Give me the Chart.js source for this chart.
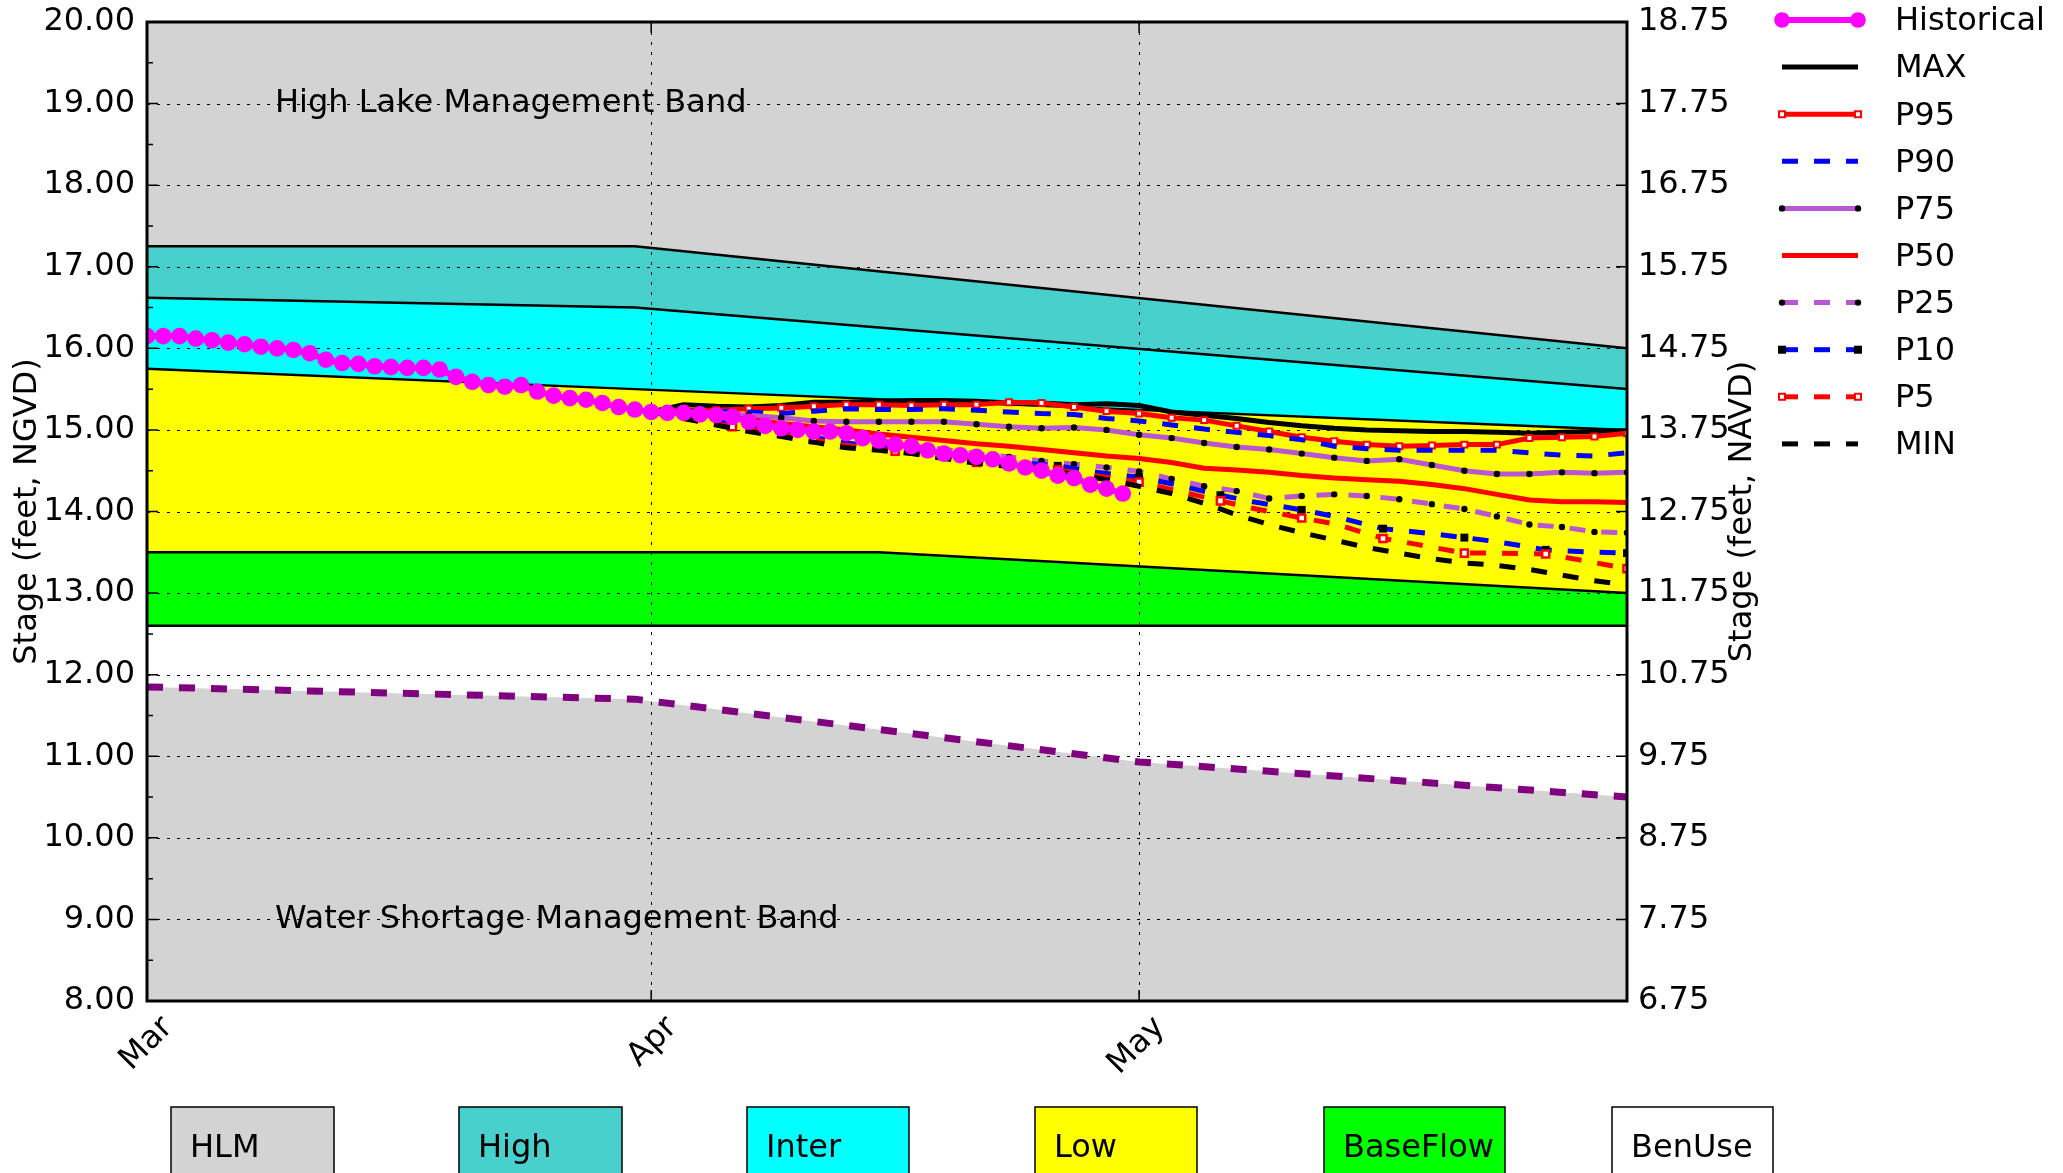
<!DOCTYPE html>
<html>
<head>
<meta charset="utf-8">
<title>Lake stage position analysis</title>
<script src="https://cdn.jsdelivr.net/npm/chart.js@4.4.1/dist/chart.umd.min.js"></script>
<style>
  html, body { margin: 0; padding: 0; background: #fff; }
  #wrap { width: 2063px; height: 1173px; position: relative; }
</style>
</head>
<body>
<div id="wrap"><canvas id="c" width="2063" height="1173"></canvas></div>
<script>
// ---- x axis: day number counted from March 1 ----
const monthDays = [0, 31, 61];
const monthLabels = ['Mar', 'Apr', 'May'];

// ---- y axis ticks (left: NGVD, right: NAVD) ----
const leftTicks = [8, 9, 10, 11, 12, 13, 14, 15, 16, 17, 18, 19, 20];
const rightTicks = [6.75, 7.75, 8.75, 9.75, 10.75, 11.75, 12.75, 13.75, 14.75, 15.75, 16.75, 17.75, 18.75];

// ---- management band boundaries (feet NGVD) ----
const hlmDays = [0, 30, 91];
const hlmFloor = [17.25, 17.25, 16.0];        // HLM / High
const highDays = [0, 30, 91];
const highFloor = [16.62, 16.5, 15.5];        // High / Intermediate
const interDays = [0, 30, 91];
const interFloor = [15.75, 15.5, 15.0];       // Intermediate / Low
const lowDays = [0, 45, 91];
const lowFloor = [13.5, 13.5, 13.0];          // Low / Base Flow
const baseDays = [0, 91];
const baseFloor = [12.6, 12.6];               // Base Flow / Beneficial Use
const wsmDays = [0, 30, 61, 91];
const wsmLine = [11.85, 11.7, 10.93, 10.5];   // Water Shortage Management line

// ---- observed stage, one value per day from Mar 1 ----
const histStage = [16.15,16.15,16.15,16.12,16.10,16.07,16.05,16.02,16.00,15.98,
  15.94,15.86,15.82,15.81,15.78,15.77,15.76,15.76,15.74,15.65,
  15.59,15.55,15.53,15.55,15.47,15.42,15.39,15.37,15.33,15.28,
  15.25,15.22,15.21,15.21,15.19,15.18,15.16,15.10,15.05,15.02,
  15.00,14.98,14.98,14.96,14.90,14.87,14.82,14.80,14.75,14.71,
  14.69,14.67,14.64,14.59,14.54,14.50,14.44,14.41,14.33,14.28,14.22];

// ---- position analysis traces (every second day from Apr 1) ----
const fcDays = [31,33,35,37,39,41,43,45,47,49,51,53,55,57,59,61,63,65,67,69,71,73,75,77,79,81,83,85,87,89,91];
const stageMax = [15.22,15.31,15.29,15.28,15.30,15.34,15.34,15.35,15.36,15.36,15.35,15.33,15.33,15.31,15.32,15.30,
  15.22,15.18,15.14,15.09,15.05,15.02,15.00,14.99,14.98,14.98,14.97,14.96,14.97,14.98,14.99];
const stageP95 = [15.22,15.24,15.24,15.26,15.27,15.29,15.31,15.31,15.30,15.31,15.31,15.34,15.33,15.28,15.23,15.20,
  15.15,15.12,15.05,14.98,14.91,14.86,14.82,14.80,14.81,14.82,14.82,14.90,14.91,14.92,14.96];
const stageP90 = [15.22,15.23,15.23,15.22,15.20,15.23,15.26,15.25,15.25,15.26,15.24,15.22,15.20,15.19,15.14,15.11,
  15.06,15.01,14.97,14.93,14.88,14.80,14.77,14.75,14.75,14.75,14.75,14.72,14.69,14.68,14.72];
const stageP75 = [15.22,15.22,15.20,15.18,15.15,15.11,15.10,15.10,15.10,15.10,15.07,15.04,15.02,15.03,15.00,14.94,
  14.90,14.84,14.79,14.76,14.71,14.66,14.62,14.64,14.57,14.50,14.46,14.46,14.48,14.47,14.48];
const stageP50 = [15.22,15.20,15.17,15.13,15.08,15.04,15.00,14.95,14.91,14.87,14.83,14.80,14.76,14.72,14.68,14.65,
  14.60,14.53,14.51,14.48,14.44,14.41,14.39,14.37,14.33,14.28,14.21,14.14,14.12,14.12,14.11];
const stageP25 = [15.22,15.19,15.15,15.10,15.04,14.98,14.93,14.87,14.81,14.76,14.71,14.67,14.62,14.58,14.54,14.49,
  14.40,14.31,14.25,14.16,14.19,14.21,14.19,14.15,14.09,14.03,13.94,13.84,13.81,13.75,13.74];
const stageMin = [15.22,15.14,15.06,14.98,14.92,14.85,14.78,14.75,14.71,14.65,14.59,14.55,14.50,14.46,14.39,14.31,
  14.22,14.10,13.96,13.84,13.74,13.65,13.56,13.49,13.42,13.37,13.34,13.29,13.22,13.15,13.10];

// lower percentiles are read on their own day set (markers every fifth day)
const lowPctDays = [31,33,36,38,41,43,46,48,51,53,56,58,61,63,66,68,71,73,76,78,81,83,86,88,91];
const stageP10 = [15.22,15.17,15.07,15.01,14.91,14.84,14.77,14.71,14.64,14.61,14.56,14.49,14.42,
  14.34,14.20,14.12,14.02,13.94,13.79,13.75,13.68,13.63,13.53,13.51,13.49];
const stageP5 = [15.22,15.14,15.04,14.98,14.88,14.81,14.74,14.69,14.60,14.57,14.51,14.45,14.36,
  14.27,14.13,14.04,13.92,13.85,13.67,13.60,13.49,13.49,13.48,13.41,13.30];

// ---- band colour key ----
const bandNames = ['HLM', 'High', 'Inter', 'Low', 'BaseFlow', 'BenUse'];
const bandColors = ['#d3d3d3', '#48d1cc', '#00ffff', '#ffff00', '#00ff00', '#ffffff'];

const FONT = "'DejaVu Sans', 'Liberation Sans', sans-serif";
const FS = 32;
Chart.defaults.font.family = FONT;
Chart.defaults.font.size = FS;
Chart.defaults.color = '#000';

const pts = (xs, ys) => xs.map((x, i) => ({ x: x, y: ys[i] }));
const everyFifth = (r) => (ctx) => (ctx.raw && (ctx.raw.x - 31) % 5 === 0 ? r : 0);

const DASH = [16, 16];
const ORCHID = '#ba55d3';

const datasets = [
  { label: 'Historical', data: pts(histStage.map((_, i) => i), histStage), borderColor: '#ff00ff', borderWidth: 6,
    pointRadius: 8.3, pointBackgroundColor: '#ff00ff', pointBorderWidth: 0, order: 0,
    mark: { shape: 'circle', size: 7.8, fill: '#ff00ff' } },
  { label: 'MAX', data: pts(fcDays, stageMax), borderColor: '#000', borderWidth: 5, order: 9 },
  { label: 'P95', data: pts(fcDays, stageP95), borderColor: '#ff0000', borderWidth: 5, order: 8,
    pointStyle: 'rect', pointRadius: 4.2, pointBackgroundColor: '#fff', pointBorderColor: '#ff0000', pointBorderWidth: 2,
    mark: { shape: 'rect', size: 6, fill: '#fff', stroke: '#ff0000' } },
  { label: 'P90', data: pts(fcDays, stageP90), borderColor: '#0000ff', borderWidth: 5, borderDash: DASH, order: 7 },
  { label: 'P75', data: pts(fcDays, stageP75), borderColor: ORCHID, borderWidth: 5, order: 6,
    pointRadius: 3.2, pointBackgroundColor: '#000', pointBorderWidth: 0,
    mark: { shape: 'circle', size: 3.2, fill: '#000' } },
  { label: 'P50', data: pts(fcDays, stageP50), borderColor: '#ff0000', borderWidth: 5, order: 5 },
  { label: 'P25', data: pts(fcDays, stageP25), borderColor: ORCHID, borderWidth: 5, borderDash: DASH, order: 4,
    pointRadius: 3.2, pointBackgroundColor: '#000', pointBorderWidth: 0,
    mark: { shape: 'circle', size: 3.2, fill: '#000' } },
  { label: 'P10', data: pts(lowPctDays, stageP10), borderColor: '#0000ff', borderWidth: 5, borderDash: DASH, order: 3,
    pointStyle: 'rect', pointRadius: everyFifth(5.6), pointBackgroundColor: '#000', pointBorderWidth: 0,
    mark: { shape: 'rect', size: 8, fill: '#000' } },
  { label: 'P5', data: pts(lowPctDays, stageP5), borderColor: '#ff0000', borderWidth: 5, borderDash: DASH, order: 2,
    pointStyle: 'rect', pointRadius: everyFifth(5.0), pointBackgroundColor: '#fff', pointBorderColor: '#ff0000', pointBorderWidth: 2.5,
    mark: { shape: 'rect', size: 6, fill: '#fff', stroke: '#ff0000' } },
  { label: 'MIN', data: pts(fcDays, stageMin), borderColor: '#000', borderWidth: 5, borderDash: DASH, order: 1 },
];
const seriesCount = datasets.length;

// band boundaries: each one fills up to the boundary above it
const iHlm = datasets.length;
datasets.push({ label: '_hlm', data: pts(hlmDays, hlmFloor), borderColor: '#000', borderWidth: 2.5,
  fill: 'end', backgroundColor: bandColors[0], order: 30 });
const iHigh = datasets.length;
datasets.push({ label: '_high', data: pts(highDays, highFloor), borderColor: '#000', borderWidth: 2.5,
  fill: iHlm, backgroundColor: bandColors[1], order: 31 });
const iInter = datasets.length;
datasets.push({ label: '_inter', data: pts(interDays, interFloor), borderColor: '#000', borderWidth: 2.5,
  fill: iHigh, backgroundColor: bandColors[2], order: 32 });
const iLow = datasets.length;
datasets.push({ label: '_low', data: pts(lowDays, lowFloor), borderColor: '#000', borderWidth: 2.5,
  fill: iInter, backgroundColor: bandColors[3], order: 33 });
datasets.push({ label: '_base', data: pts(baseDays, baseFloor), borderColor: '#000', borderWidth: 2.5,
  fill: iLow, backgroundColor: bandColors[4], order: 34 });
datasets.push({ label: '_wsm', data: pts(wsmDays, wsmLine), borderColor: '#800080', borderWidth: 7,
  borderDash: [16, 16], fill: 'start', backgroundColor: '#d3d3d3', order: 20 });

datasets.forEach(d => {
  d.type = 'line';
  d.tension = 0;
  if (d.fill === undefined) d.fill = false;
  if (d.pointRadius === undefined) d.pointRadius = 0;
  d.borderCapStyle = 'butt';
  d.borderJoinStyle = 'round';
});

function drawMark(ctx, m, x, y) {
  if (!m) return;
  ctx.save();
  ctx.setLineDash([]);
  ctx.beginPath();
  if (m.shape === 'circle') {
    ctx.arc(x, y, m.size, 0, Math.PI * 2);
  } else {
    ctx.rect(x - m.size / 2, y - m.size / 2, m.size, m.size);
  }
  ctx.fillStyle = m.fill;
  ctx.fill();
  if (m.stroke) { ctx.lineWidth = 2; ctx.strokeStyle = m.stroke; ctx.stroke(); }
  ctx.restore();
}

// pin the plot frame: no extra room reserved for the end tick labels
const noPad = s => { s.paddingTop = 0; s.paddingBottom = 0; };

const decor = {
  id: 'decor',
  // dotted grid sits on the band fills, under the traces
  beforeDatasetsDraw(chart) {
    const { ctx, chartArea: a, scales: { x, y } } = chart;
    ctx.save();
    ctx.strokeStyle = '#000';
    ctx.lineWidth = 1;
    ctx.setLineDash([3, 7]);
    ctx.beginPath();
    leftTicks.forEach(v => {
      if (v <= y.min || v >= y.max) return;
      const py = Math.round(y.getPixelForValue(v)) + 0.5;
      ctx.moveTo(a.left, py); ctx.lineTo(a.right, py);
    });
    monthDays.forEach(d => {
      if (d <= x.min || d >= x.max) return;
      const px = Math.round(x.getPixelForValue(d)) + 0.5;
      ctx.moveTo(px, a.top); ctx.lineTo(px, a.bottom);
    });
    ctx.stroke();
    ctx.restore();
  },
  afterDatasetsDraw(chart) {
    const { ctx, chartArea: a, scales: { x, y, y2 } } = chart;
    ctx.save();
    ctx.setLineDash([]);
    ctx.strokeStyle = '#000';
    ctx.lineWidth = 1.5;
    ctx.beginPath();
    leftTicks.forEach(v => {
      const py = y.getPixelForValue(v);
      ctx.moveTo(a.left, py); ctx.lineTo(a.left + 11, py);
      if (v < y.max) {
        const pm = y.getPixelForValue(v + 0.5);
        ctx.moveTo(a.left, pm); ctx.lineTo(a.left + 6, pm);
      }
    });
    rightTicks.forEach(v => {
      const py = y2.getPixelForValue(v);
      ctx.moveTo(a.right - 11, py); ctx.lineTo(a.right, py);
    });
    monthDays.forEach(d => {
      const px = x.getPixelForValue(d);
      ctx.moveTo(px, a.bottom); ctx.lineTo(px, a.bottom - 11);
      ctx.moveTo(px, a.top); ctx.lineTo(px, a.top + 11);
    });
    ctx.stroke();

    // band captions
    ctx.fillStyle = '#000';
    ctx.font = FS + 'px ' + FONT;
    ctx.textAlign = 'left';
    ctx.textBaseline = 'alphabetic';
    ctx.fillText('High Lake Management Band', x.getPixelForValue(7.87), y.getPixelForValue(19) + 8.5);
    ctx.fillText('Water Shortage Management Band', x.getPixelForValue(7.87), y.getPixelForValue(9) + 8.5);

    // axes frame
    ctx.lineWidth = 3;
    ctx.strokeRect(a.left, a.top, a.right - a.left, a.bottom - a.top);
    ctx.restore();
  },
  afterDraw(chart) {
    const { ctx, chartArea: a } = chart;
    ctx.save();
    ctx.font = FS + 'px ' + FONT;
    ctx.fillStyle = '#000';

    // right axis title, reading upward
    ctx.save();
    ctx.translate(1743, (a.top + a.bottom) / 2);
    ctx.rotate(-Math.PI / 2);
    ctx.textAlign = 'center';
    ctx.textBaseline = 'middle';
    ctx.fillText('Stage (feet, NAVD)', 0, 0);
    ctx.restore();

    // trace key
    const x0 = 1782, x1 = 1858, tx = 1895;
    for (let i = 0; i < seriesCount; i++) {
      const d = chart.data.datasets[i];
      const ry = 20 + i * 47.1;
      ctx.save();
      ctx.beginPath();
      ctx.setLineDash(d.borderDash || []);
      ctx.lineCap = 'butt';
      ctx.lineWidth = d.borderWidth;
      ctx.strokeStyle = d.borderColor;
      ctx.moveTo(x0, ry); ctx.lineTo(x1, ry);
      ctx.stroke();
      ctx.restore();
      drawMark(ctx, d.mark, x0, ry);
      drawMark(ctx, d.mark, x1, ry);
      ctx.fillStyle = '#000';
      ctx.textAlign = 'left';
      ctx.textBaseline = 'middle';
      ctx.fillText(d.label, tx, ry + 2);
    }

    // band colour key along the bottom
    const boxes = [[171, 163], [459, 163], [747, 162], [1035, 162], [1324, 181], [1612, 161]];
    bandNames.forEach((name, i) => {
      const [bx, bw] = boxes[i];
      ctx.fillStyle = bandColors[i];
      ctx.fillRect(bx, 1107, bw, 90);
      ctx.lineWidth = 1.5;
      ctx.strokeStyle = '#000';
      ctx.strokeRect(bx, 1107, bw, 90);
      ctx.fillStyle = '#000';
      ctx.textAlign = 'left';
      ctx.textBaseline = 'alphabetic';
      ctx.fillText(name, bx + 19, 1157);
    });
    ctx.restore();
  }
};

new Chart(document.getElementById('c'), {
  type: 'line',
  data: { datasets },
  options: {
    responsive: false,
    maintainAspectRatio: false,
    devicePixelRatio: 1,
    animation: false,
    events: [],
    layout: { padding: { top: 22, left: 0, right: 0, bottom: 0 } },
    plugins: {
      legend: { display: false },
      tooltip: { enabled: false },
      filler: { drawTime: 'beforeDatasetsDraw' }
    },
    scales: {
      x: {
        type: 'linear', min: 0, max: 91,
        afterBuildTicks: s => { s.ticks = monthDays.map(v => ({ value: v })); },
        afterFit: s => { s.height = 172; s.paddingLeft = 0; s.paddingRight = 0; },
        grid: { display: false, drawTicks: false },
        border: { display: false },
        ticks: {
          autoSkip: false, maxRotation: 45, minRotation: 45, padding: 8, labelOffset: 21,
          font: { size: FS }, color: '#000',
          callback: (v, i) => monthLabels[i]
        }
      },
      y: {
        type: 'linear', position: 'left', min: 8, max: 20,
        afterBuildTicks: s => { s.ticks = leftTicks.map(v => ({ value: v })); },
        afterFit: s => { s.width = 147; noPad(s); },
        grid: { display: false, drawTicks: false },
        border: { display: false },
        ticks: { padding: 12, font: { size: FS }, color: '#000', callback: v => Number(v).toFixed(2) },
        title: { display: true, text: 'Stage (feet, NGVD)', font: { size: FS }, color: '#000', padding: { top: 8, bottom: 0 } }
      },
      y2: {
        type: 'linear', position: 'right', min: 6.75, max: 18.75,
        afterBuildTicks: s => { s.ticks = rightTicks.map(v => ({ value: v })); },
        afterFit: s => { s.width = 436; noPad(s); },
        grid: { display: false, drawTicks: false },
        border: { display: false },
        ticks: { padding: 11, font: { size: FS }, color: '#000', callback: v => Number(v).toFixed(2) }
      }
    }
  },
  plugins: [decor]
});
</script>
</body>
</html>
